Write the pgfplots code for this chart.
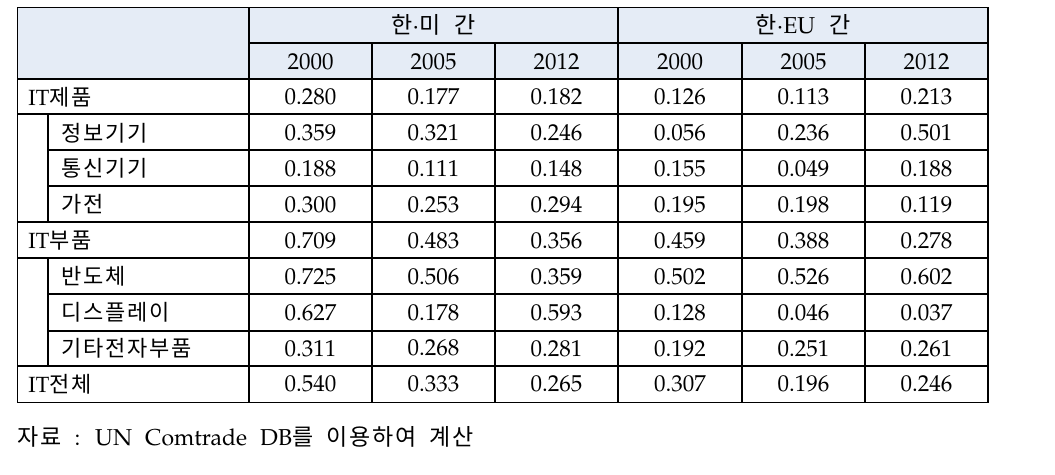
\documentclass[border=0pt]{standalone}
\usepackage{fontspec}
\setmainfont{TeX Gyre Pagella}
\newfontfamily\kr{Noto Sans CJK KR}[LetterSpace=8]
\usepackage{pgfplots}
\usepackage{pgfplotstable}
\pgfplotsset{compat=1.18}

% switch to the Korean font for Hangul syllables, back to the main font otherwise
\XeTeXinterchartokenstate=1
\newXeTeXintercharclass\hangul
\newcount\hc
\hc="AC00
\loop \XeTeXcharclass\hc=\hangul \advance\hc by 1 \ifnum\hc<"D7A4 \repeat
\XeTeXinterchartoks 0 \hangul = {\kr}
\XeTeXinterchartoks 4095 \hangul = {\kr}
\XeTeXinterchartoks \hangul 0 = {\rmfamily}
\XeTeXinterchartoks \hangul 4095 = {\rmfamily}

\definecolor{hdr}{RGB}{229,236,246}

% ind: 0 = main group, 1 = sub item
\pgfplotstableread{
ind name        a     b     c     d     e     f
0   IT제품      0.280 0.177 0.182 0.126 0.113 0.213
1   정보기기    0.359 0.321 0.246 0.056 0.236 0.501
1   통신기기    0.188 0.111 0.148 0.155 0.049 0.188
1   가전        0.300 0.253 0.294 0.195 0.198 0.119
0   IT부품      0.709 0.483 0.356 0.459 0.388 0.278
1   반도체      0.725 0.506 0.359 0.502 0.526 0.602
1   디스플레이  0.627 0.178 0.593 0.128 0.046 0.037
1   기타전자부품 0.311 0.268 0.281 0.192 0.251 0.261
0   IT전체      0.540 0.333 0.265 0.307 0.196 0.246
}\tab

\begin{document}
\begin{tikzpicture}
\begin{axis}[
  width=527.5pt, height=237pt, scale only axis,
  xmin=0, xmax=1055, ymin=0, ymax=474, y dir=reverse,
  hide axis, clip=false,
  point meta=explicit symbolic,
  nodes near coords,
  nodes near coords align=center,
  every node near coord/.append style={anchor=center, inner sep=0pt, font=\fontsize{11.5}{13}\selectfont},
]
\path (axis cs:0,0) rectangle (axis cs:1055,474);
\fill[hdr] (axis cs:17.5,7.5) rectangle (axis cs:988,79);

% grid of the table
\begin{scope}[line width=0.6pt]
\draw (axis cs:17.5,7.5) rectangle (axis cs:988,402);
\draw (axis cs:17.5,79) -- (axis cs:988,79);
\draw (axis cs:17.5,114) -- (axis cs:988,114);
\draw (axis cs:17.5,222) -- (axis cs:988,222);
\draw (axis cs:17.5,258) -- (axis cs:988,258);
\draw (axis cs:17.5,366) -- (axis cs:988,366);
\draw (axis cs:48,150) -- (axis cs:988,150);
\draw (axis cs:48,186) -- (axis cs:988,186);
\draw (axis cs:48,294) -- (axis cs:988,294);
\draw (axis cs:48,331) -- (axis cs:988,331);
\draw (axis cs:249,43) -- (axis cs:988,43);
\draw (axis cs:249,7.5) -- (axis cs:249,402);
\draw (axis cs:618,7.5) -- (axis cs:618,402);
\draw (axis cs:372,43) -- (axis cs:372,402);
\draw (axis cs:495,43) -- (axis cs:495,402);
\draw (axis cs:742,43) -- (axis cs:742,402);
\draw (axis cs:865,43) -- (axis cs:865,402);
\draw (axis cs:48,114) -- (axis cs:48,222);
\draw (axis cs:48,258) -- (axis cs:48,366);
\end{scope}

% headers
\begin{scope}[font=\fontsize{11.5}{13}\selectfont, inner sep=0pt]
\node at (axis cs:433.5,25) {한·미\hspace{7pt}간};
\node at (axis cs:803,25) {한·EU\hspace{7pt}간};
\node at (axis cs:310.5,62) {2000};
\node at (axis cs:433.5,62) {2005};
\node at (axis cs:556.5,62) {2012};
\node at (axis cs:680,62) {2000};
\node at (axis cs:803.5,62) {2005};
\node at (axis cs:926.5,62) {2012};
\node[anchor=west] at (axis cs:17,437) {\spaceskip=6.5pt 자료 : UN Comtrade DB를 이용하여 계산};
\end{scope}

% row names
\addplot[draw=none, nodes near coords align=west,
  every node near coord/.append style={anchor=west, font=\fontsize{11}{13}\selectfont}]
  table[x expr=28+33*\thisrow{ind}, y expr=96.9+35.9*\coordindex, meta=name] {\tab};

% values
\addplot[draw=none] table[x expr=310.5, y expr=96.9+35.9*\coordindex, meta=a] {\tab};
\addplot[draw=none] table[x expr=433.5, y expr=96.9+35.9*\coordindex, meta=b] {\tab};
\addplot[draw=none] table[x expr=556.5, y expr=96.9+35.9*\coordindex, meta=c] {\tab};
\addplot[draw=none] table[x expr=680,   y expr=96.9+35.9*\coordindex, meta=d] {\tab};
\addplot[draw=none] table[x expr=803.5, y expr=96.9+35.9*\coordindex, meta=e] {\tab};
\addplot[draw=none] table[x expr=926.5, y expr=96.9+35.9*\coordindex, meta=f] {\tab};
\end{axis}
\end{tikzpicture}
\end{document}
